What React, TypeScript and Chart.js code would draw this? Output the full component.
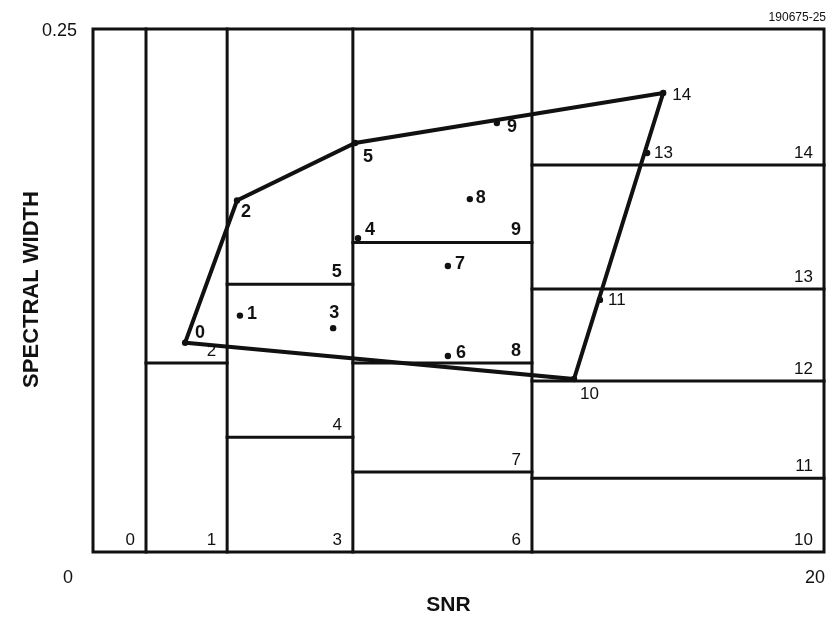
import React, { useEffect, useRef } from 'react';
import { Chart, registerables } from 'chart.js';

Chart.register(...registerables);

// ---- data ----
const snrMin = 0;
const snrMax = 20;
const widthMin = 0;
const widthMax = 0.25;

// SNR column boundaries
const snrEdges = [0, 1.45, 3.67, 7.11, 12.01, 20];
// spectral-width splits inside each SNR column (bottom to top)
const col0Splits: number[] = [];
const col1Splits = [0.0903];
const col2Splits = [0.0548, 0.128];
const col3Splits = [0.0382, 0.0903, 0.148];
const col4Splits = [0.0352, 0.0817, 0.1257, 0.185];
const columnSplits = [col0Splits, col1Splits, col2Splits, col3Splits, col4Splits];

// bin numbers that are printed bold
const boldBins = [5, 8, 9];

// measured points
const pointIds = [0, 1, 2, 3, 4, 5, 6, 7, 8, 9, 10, 11, 13, 14];
const pointSnr = [2.52, 4.02, 3.94, 6.57, 7.25, 7.17, 9.71, 9.71, 10.31, 11.05, 13.16, 13.87, 15.16, 15.6];
const pointWidth = [0.1, 0.113, 0.168, 0.107, 0.15, 0.1955, 0.0937, 0.1367, 0.1687, 0.2051, 0.0827, 0.1205, 0.1907, 0.2194];

// outline polygon through points
const hullIds = [0, 2, 5, 14, 10, 0];

const xTickLabels = ['0', '20'];
const yTickLabels = ['0', '0.25'];
const xTitle = 'SNR';
const yTitle = 'SPECTRAL WIDTH';
const figureId = '190675-25';

// ---- label styling (pixel offsets from each marker) ----
const pointLabelStyle: Record<number, { dx: number; dy: number; align: CanvasTextAlign; bold: boolean }> = {
  0: { dx: 10, dy: -10, align: 'left', bold: true },
  1: { dx: 7, dy: -2, align: 'left', bold: true },
  2: { dx: 4, dy: 11, align: 'left', bold: true },
  3: { dx: 1, dy: -15, align: 'center', bold: true },
  4: { dx: 7, dy: -8, align: 'left', bold: true },
  5: { dx: 8, dy: 14, align: 'left', bold: true },
  6: { dx: 8, dy: -3, align: 'left', bold: true },
  7: { dx: 7, dy: -2, align: 'left', bold: true },
  8: { dx: 6, dy: -1, align: 'left', bold: true },
  9: { dx: 10, dy: 4, align: 'left', bold: true },
  10: { dx: 6, dy: 15, align: 'left', bold: false },
  11: { dx: 8, dy: 0, align: 'left', bold: false },
  13: { dx: 7, dy: 0, align: 'left', bold: false },
  14: { dx: 9, dy: 2, align: 'left', bold: false },
};

const FONT = '"Liberation Sans", Arial, Helvetica, sans-serif';
const INK = '#111111';

function buildDatasets() {
  const lineBase = {
    showLine: true,
    borderColor: INK,
    borderWidth: 3,
    pointRadius: 0,
    tension: 0,
    clip: false as any,
    borderCapStyle: 'square' as CanvasLineCap,
  };
  const datasets: any[] = [];
  // frame
  datasets.push({
    ...lineBase,
    data: [
      { x: snrMin, y: widthMin },
      { x: snrMax, y: widthMin },
      { x: snrMax, y: widthMax },
      { x: snrMin, y: widthMax },
      { x: snrMin, y: widthMin },
    ],
  });
  // column boundaries
  for (let i = 1; i < snrEdges.length - 1; i++) {
    datasets.push({
      ...lineBase,
      data: [
        { x: snrEdges[i], y: widthMin },
        { x: snrEdges[i], y: widthMax },
      ],
    });
  }
  // cell splits
  columnSplits.forEach((splits, c) => {
    splits.forEach((w) => {
      datasets.push({
        ...lineBase,
        data: [
          { x: snrEdges[c], y: w },
          { x: snrEdges[c + 1], y: w },
        ],
      });
    });
  });
  // polygon
  datasets.push({
    ...lineBase,
    borderWidth: 4,
    borderJoinStyle: 'miter',
    data: hullIds.map((id) => {
      const k = pointIds.indexOf(id);
      return { x: pointSnr[k], y: pointWidth[k] };
    }),
  });
  // markers
  datasets.push({
    showLine: false,
    clip: false,
    pointRadius: 3.2,
    pointBackgroundColor: INK,
    pointBorderColor: INK,
    pointBorderWidth: 0,
    data: pointIds.map((_, k) => ({ x: pointSnr[k], y: pointWidth[k] })),
  });
  return datasets;
}

const labelPlugin = {
  id: 'labelPlugin',
  afterDatasetsDraw(chart: any) {
    const ctx: CanvasRenderingContext2D = chart.ctx;
    const xs = chart.scales.x;
    const ys = chart.scales.y;
    const px = (v: number) => xs.getPixelForValue(v);
    const py = (v: number) => ys.getPixelForValue(v);
    ctx.save();
    ctx.fillStyle = INK;

    // bin labels at the lower-right corner of each cell
    let bin = 0;
    columnSplits.forEach((splits, c) => {
      const bounds = [widthMin, ...splits];
      bounds.forEach((w) => {
        const bold = boldBins.includes(bin);
        ctx.font = `${bold ? 'bold ' : ''}${bold ? 18 : 17}px ${FONT}`;
        ctx.textAlign = 'right';
        ctx.textBaseline = 'alphabetic';
        ctx.fillText(String(bin), px(snrEdges[c + 1]) - 11, py(w) - 7);
        bin++;
      });
    });

    // point labels
    pointIds.forEach((id, k) => {
      const st = pointLabelStyle[id];
      ctx.font = `${st.bold ? 'bold 18px' : '17px'} ${FONT}`;
      ctx.textAlign = st.align;
      ctx.textBaseline = 'middle';
      ctx.fillText(String(id), px(pointSnr[k]) + st.dx, py(pointWidth[k]) + st.dy);
    });

    // tick labels
    ctx.font = `18px ${FONT}`;
    ctx.textBaseline = 'middle';
    ctx.textAlign = 'right';
    ctx.fillText(yTickLabels[1], px(snrMin) - 16, py(widthMax) + 2);
    ctx.textAlign = 'center';
    ctx.fillText(xTickLabels[0], px(snrMin) - 25, py(widthMin) + 26);
    ctx.textAlign = 'right';
    ctx.fillText(xTickLabels[1], px(snrMax) + 1, py(widthMin) + 26);

    // axis titles
    ctx.font = `bold 21px ${FONT}`;
    ctx.textAlign = 'center';
    ctx.textBaseline = 'middle';
    ctx.fillText(xTitle, (px(snrMin) + px(snrMax)) / 2 - 10, py(widthMin) + 53);
    ctx.save();
    ctx.translate(px(snrMin) - 61, (py(widthMin) + py(widthMax)) / 2 - 1);
    ctx.rotate(-Math.PI / 2);
    ctx.font = `bold 22px ${FONT}`;
    ctx.fillText(yTitle, 0, 0);
    ctx.restore();

    // figure id
    ctx.font = `12px ${FONT}`;
    ctx.textAlign = 'right';
    ctx.textBaseline = 'alphabetic';
    ctx.fillText(figureId, px(snrMax) + 2, py(widthMax) - 8);

    ctx.restore();
  },
};

export default function App() {
  const ref = useRef<HTMLCanvasElement | null>(null);
  useEffect(() => {
    document.body.style.margin = '0';
    document.body.style.overflow = 'hidden';
    const canvas = ref.current;
    if (!canvas) return;
    const chart = new Chart(canvas, {
      type: 'scatter',
      data: { datasets: buildDatasets() },
      options: {
        responsive: false,
        animation: false,
        devicePixelRatio: 1,
        layout: { padding: { left: 93, right: 14, top: 29, bottom: 69 } },
        plugins: { legend: { display: false }, tooltip: { enabled: false } },
        scales: {
          x: { type: 'linear', min: snrMin, max: snrMax, display: false },
          y: { type: 'linear', min: widthMin, max: widthMax, display: false },
        },
      },
      plugins: [labelPlugin],
    });
    return () => chart.destroy();
  }, []);
  return (
    <div style={{ width: 838, height: 621, background: '#fff' }}>
      <canvas ref={ref} width={838} height={621} style={{ display: 'block' }} />
    </div>
  );
}
